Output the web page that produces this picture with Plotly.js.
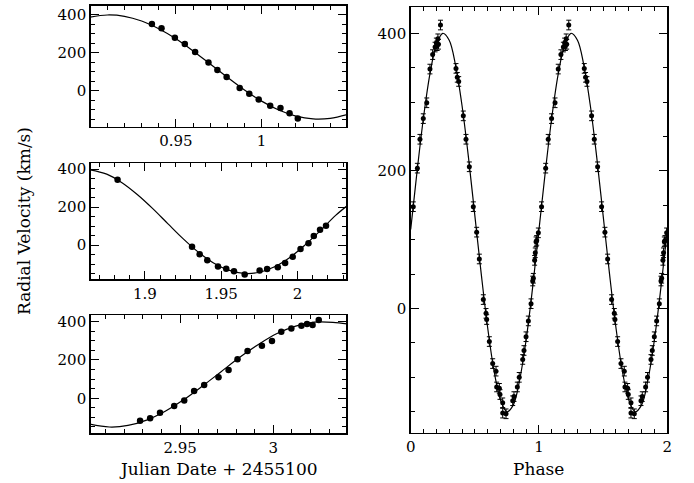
<!DOCTYPE html>
<html>
<head>
<meta charset="utf-8">
<script src="https://cdn.plot.ly/plotly-3.0.1.min.js"></script>
<style>html,body{margin:0;padding:0;background:#fff;}#chart{width:694px;height:483px;}</style>
</head>
<body>
<div id="chart"></div>
<script>
// ---- Panel 1 (top-left) observations ----
const topT = [0.936,0.9416,0.9494,0.9552,0.9612,0.969,0.9742,0.9796,0.9872,0.9928,0.9983,1.005,1.011,1.0163,1.0211];
const topV = [353,330,280,247,205,149,110,72,14,-16,-47,-79,-91,-119,-147];
// fitted curve
const topCurveT = [0.90,0.91,0.92,0.93,0.94,0.95,0.96,0.97,0.98,0.99,1.00,1.01,1.02,1.03,1.04,1.05];
const topCurveV = [389,400,393,368,327,274,210,141,71,4,-55,-102,-134,-149,-146,-126];

// ---- Panel 2 (middle-left) ----
const midT = [1.8821,1.9309,1.9359,1.9409,1.9479,1.9533,1.9584,1.9654,1.9752,1.9801,1.9871,1.9919,1.9969,2.0020,2.0072,2.0107,2.0148,2.0187];
const midV = [343,-9,-48,-80,-112,-124,-137,-155,-133,-126,-116,-94,-62,-20,9,48,80,101];
const midCurveT = [1.862,1.875,1.885,1.895,1.905,1.915,1.925,1.935,1.945,1.955,1.965,1.975,1.985,1.995,2.005,2.015,2.025,2.034];
const midCurveV = [399,373,328,266,193,113,34,-37,-94,-132,-149,-143,-114,-65,1,76,156,216];

// ---- Panel 3 (bottom-left) ----
const botT = [2.9285,2.9339,2.9392,2.9468,2.9522,2.9575,2.9629,2.9706,2.9760,2.9808,2.9862,2.9939,2.9993,3.0043,3.0097,3.0151,3.0181,3.0211,3.0244];
const botV = [-118,-104,-75,-40,-12,38,69,110,148,204,247,275,299,348,365,379,388,383,409];
const botCurveT = [2.900,2.912,2.922,2.932,2.942,2.952,2.962,2.972,2.982,2.992,3.002,3.012,3.022,3.032,3.042];
const botCurveV = [-132,-150,-142,-114,-68,-7,64,139,214,281,338,377,398,397,385];

// ---- Phase-folded panel (one cycle, shown twice) ----
const phase = [0.020,0.052,0.072,0.098,0.125,0.150,0.171,0.190,0.200,0.206,0.212,0.216,0.232,0.353,0.363,0.374,0.410,0.431,0.457,0.488,0.514,0.535,0.566,0.587,0.592,0.613,0.639,0.665,0.670,0.691,0.696,0.717,0.717,0.743,0.795,0.805,0.831,0.846,0.873,0.883,0.899,0.917,0.938,0.951,0.956,0.966,0.971,0.977,0.982,0.995];
const phaseV = [148,204,246,276,299,348,369,380,386,382,392,384,412,349,336,330,280,246,206,148,111,72,13,-7,-16,-48,-80,-91,-114,-116,-125,-137,-152,-153,-134,-128,-114,-100,-74,-61,-41,-18,7,40,44,70,81,97,99,110];
const phaseCurveP = [0,0.05,0.10,0.15,0.20,0.25,0.30,0.35,0.40,0.45,0.50,0.55,0.60,0.65,0.70,0.75,0.80,0.85,0.90,0.95,1.00];
const phaseCurveV = [115,200,278,341,383,400,390,353,295,220,135,50,-28,-91,-133,-150,-140,-103,-45,30,115];

// tick labels
const topTicks = [0.95, 1], topTickText = ['0.95','1'];
const midTicks = [1.9, 1.95, 2], midTickText = ['1.9','1.95','2'];
const botTicks = [2.95, 3], botTickText = ['2.95','3'];
const velTicks = [0, 200, 400], velTickText = ['0','200','400'];
const phaseTicks = [0, 1, 2], phaseTickText = ['0','1','2'];

const FONT = 'DejaVu Serif';
const pts = (x, y, xa, ya) => ({x, y, xaxis: xa, yaxis: ya, type: 'scatter', mode: 'markers',
  marker: {symbol: 'circle', size: 6.5, color: '#000'}, hoverinfo: 'skip'});
const crv = (x, y, xa, ya) => ({x, y, xaxis: xa, yaxis: ya, type: 'scatter', mode: 'lines',
  line: {color: '#000', width: 1.2, shape: 'spline'}, hoverinfo: 'skip'});

const phase2 = phase.concat(phase.map(p => p + 1));
const phaseV2 = phaseV.concat(phaseV);
const pcP = phaseCurveP.concat(phaseCurveP.slice(1).map(p => p + 1));
const pcV = phaseCurveV.concat(phaseCurveV.slice(1));

const traces = [
  crv(topCurveT, topCurveV, 'x', 'y'), pts(topT, topV, 'x', 'y'),
  crv(midCurveT, midCurveV, 'x2', 'y2'), pts(midT, midV, 'x2', 'y2'),
  crv(botCurveT, botCurveV, 'x3', 'y3'), pts(botT, botV, 'x3', 'y3'),
  crv(pcP, pcV, 'x4', 'y4'),
  Object.assign(pts(phase2, phaseV2, 'x4', 'y4'), {marker: {symbol: 'circle', size: 5, color: '#000'},
    error_y: {type: 'constant', value: 7, thickness: 1, width: 2.5, color: '#000'}})
];

function ax(extra, minorDtick) {
  return Object.assign({
    showline: true, linecolor: '#000', linewidth: 1.5, mirror: 'allticks',
    ticks: 'inside', ticklen: 8, tickwidth: 1, tickcolor: '#000',
    showgrid: false, zeroline: false, tickmode: 'array',
    tickfont: {family: FONT, size: 15, color: '#000'},
    minor: {ticks: 'inside', ticklen: 4, tickwidth: 1, tickcolor: '#000', showgrid: false,
            tickmode: 'linear', tick0: 0, dtick: minorDtick}
  }, extra);
}

const layout = {
  width: 694, height: 483,
  margin: {l: 0, r: 0, t: 0, b: 0},
  paper_bgcolor: '#fff', plot_bgcolor: '#fff',
  showlegend: false,
  xaxis:  ax({domain: [0.1307, 0.4990], range: [0.9003, 1.0494], anchor: 'y',  tickvals: topTicks, ticktext: topTickText}, 0.01),
  yaxis:  ax({domain: [0.7377, 0.9882], range: [-190, 449], anchor: 'x', tickvals: velTicks, ticktext: velTickText}, 50),
  xaxis2: ax({domain: [0.1307, 0.4990], range: [1.8645, 2.032], anchor: 'y2', tickvals: midTicks, ticktext: midTickText}, 0.01),
  yaxis2: ax({domain: [0.4217, 0.6619], range: [-180, 430], anchor: 'x2', tickvals: velTicks, ticktext: velTickText}, 50),
  xaxis3: ax({domain: [0.1307, 0.4990], range: [2.902, 3.0392], anchor: 'y3', tickvals: botTicks, ticktext: botTickText}, 0.01),
  yaxis3: ax({domain: [0.1029, 0.3478], range: [-183, 435], anchor: 'x3', tickvals: velTicks, ticktext: velTickText}, 50),
  xaxis4: ax({domain: [0.5918, 0.9615], range: [0, 2], anchor: 'y4', tickvals: phaseTicks, ticktext: phaseTickText}, 0.1),
  yaxis4: ax({domain: [0.1041, 0.9845], range: [-180.5, 437.5], anchor: 'x4', tickvals: velTicks, ticktext: velTickText}, 50),
  annotations: [
    {text: 'Radial Velocity (km/s)', xref: 'paper', yref: 'paper', x: 0.0346, y: 0.5424,
     xanchor: 'center', yanchor: 'middle', textangle: -90, showarrow: false,
     font: {family: FONT, size: 17, color: '#000'}},
    {text: 'Julian Date + 2455100', xref: 'paper', yref: 'paper', x: 0.3148, y: 0.0290,
     xanchor: 'center', yanchor: 'middle', showarrow: false,
     font: {family: FONT, size: 17, color: '#000'}},
    {text: 'Phase', xref: 'paper', yref: 'paper', x: 0.7766, y: 0.0290,
     xanchor: 'center', yanchor: 'middle', showarrow: false,
     font: {family: FONT, size: 17, color: '#000'}}
  ]
};

Plotly.newPlot('chart', traces, layout, {staticPlot: true, displayModeBar: false});
</script>
</body>
</html>
